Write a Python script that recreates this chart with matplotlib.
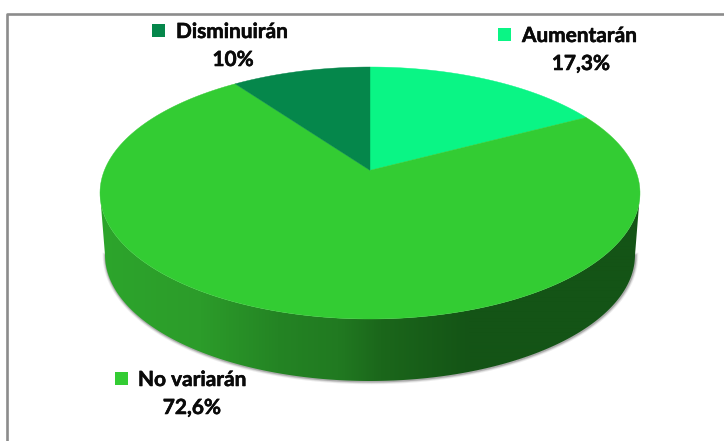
import numpy as np
import matplotlib
matplotlib.use("Agg")
import matplotlib.pyplot as plt
import matplotlib.patheffects as pe
from matplotlib.colors import LinearSegmentedColormap
from matplotlib.patches import Polygon, Rectangle

# data, clockwise from the top
labels = ["Aumentarán", "No variarán", "Disminuirán"]
value_labels = ["17,3%", "72,6%", "10%"]
values = [17.3, 72.6, 10.0]
colors = ["#0AF585", "#33CC33", "#05874B"]

# pie geometry in pixels
cx, cy = 370, 193
rx, ry = 270, 126
apex_shift = 0.18  # the slices meet above the middle of the disc
depth = 62
bottom_rx = 265

# legend square (x, y) and text positions for each label
square_pos = [(498, 28), (115, 372), (152, 24)]
name_pos = [(522, 36), (138, 380), (176, 32)]
value_pos = [(581, 64), (192, 408), (233, 60)]


def rim_angle(frac):
    # ray from the shifted apex to the disc rim, returned as rim angle
    a = 2 * np.pi * frac
    dx, dy = np.sin(a), np.cos(a)
    b = apex_shift * dy
    t = -b + np.sqrt(b * b + 1 - apex_shift ** 2)
    return np.arctan2(t * dx, apex_shift + t * dy)


fig = plt.figure(figsize=(7.24, 4.41), dpi=100)
ax = fig.add_axes([0, 0, 1, 1])
ax.set_xlim(0, 724)
ax.set_ylim(441, 0)
ax.axis("off")

# frame
ax.plot([7, 7, 724], [441, 13.5, 13.5], color="#8C8C8C", lw=1.9, zorder=1)

# side of the pie
t = np.linspace(np.pi / 2, 3 * np.pi / 2, 300)
top_x, top_y = cx + rx * np.sin(t), cy - ry * np.cos(t)
bot_x, bot_y = cx + bottom_rx * np.sin(t), cy + depth - ry * np.cos(t)

# soft shadow along the lower edge
for lw, alpha in [(4.0, 0.12), (2.6, 0.2), (1.4, 0.35)]:
    ax.plot(bot_x + 0.5, bot_y + 0.5, color="#666666", lw=lw, alpha=alpha, zorder=2)

side = Polygon(np.column_stack([np.r_[top_x, bot_x[::-1]], np.r_[top_y, bot_y[::-1]]]),
               closed=True, fc="none", ec="none", zorder=3)
ax.add_patch(side)
side_cmap = LinearSegmentedColormap.from_list("side", [
    (0.00, "#2DA52C"), (0.185, "#2C9C2A"), (0.33, "#248424"),
    (0.44, "#217A21"), (0.52, "#1B671B"), (0.685, "#145416"), (1.00, "#145416")], N=1024)
img = ax.imshow(np.linspace(0, 1, 540).reshape(1, -1), cmap=side_cmap, aspect="auto",
                extent=[100, 640, 400, 180], zorder=3, interpolation="bilinear")
img.set_clip_path(side)
ax.set_xlim(0, 724)
ax.set_ylim(441, 0)

# top of the pie
apex = (cx, cy - apex_shift * ry)
start = 0.0
total = sum(values)
for val, col in zip(values, colors):
    end = start + val / total
    a0, a1 = rim_angle(start), rim_angle(end)
    if a1 <= a0:
        a1 += 2 * np.pi
    ang = np.linspace(a0, a1, 200)
    pts = np.column_stack([cx + rx * np.sin(ang), cy - ry * np.cos(ang)])
    ax.add_patch(Polygon(np.vstack([apex, pts]), closed=True, fc=col, ec=col, lw=0.3, zorder=4))
    start = end

# labels with their squares
font = dict(family="Lato", fontweight="bold", fontsize=15, color="#0A0A0A", zorder=5,
            path_effects=[pe.withStroke(linewidth=0.4, foreground="#0A0A0A")])
for i in range(len(labels)):
    ax.add_patch(Rectangle(square_pos[i], 13, 13, fc=colors[i], ec="none", zorder=5))
    ax.text(name_pos[i][0], name_pos[i][1], labels[i], ha="left", va="center", **font)
    ax.text(value_pos[i][0], value_pos[i][1], value_labels[i], ha="center", va="center", **font)

fig.savefig("out.png", dpi=100)
